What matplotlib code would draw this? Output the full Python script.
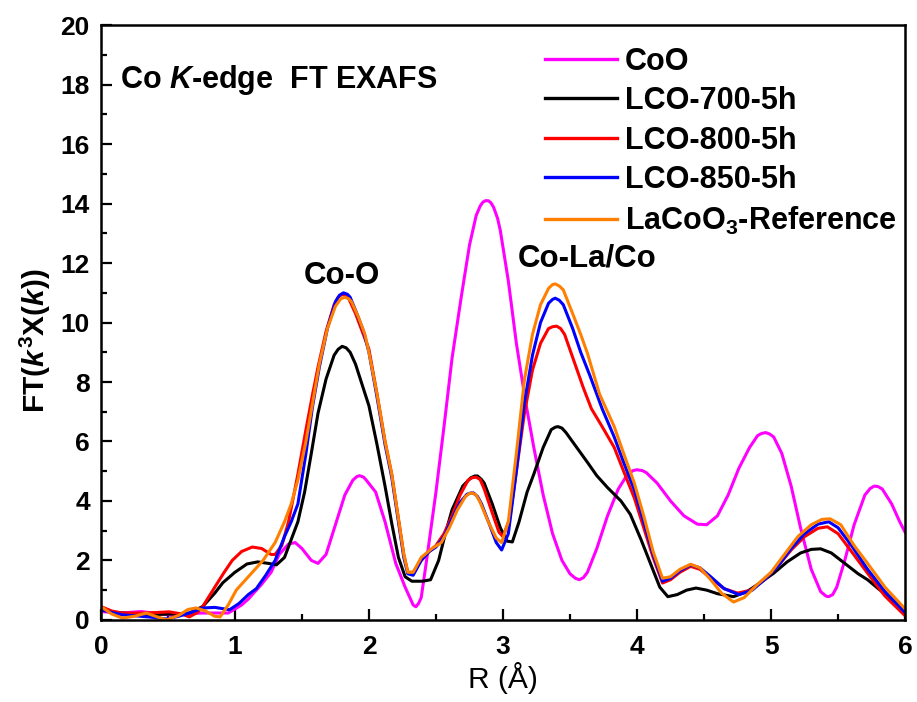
import matplotlib
matplotlib.use("Agg")
import matplotlib.pyplot as plt
from matplotlib.ticker import MultipleLocator

plt.rcParams["font.family"] = ["Liberation Sans", "DejaVu Sans"]
plt.rcParams["mathtext.fontset"] = "custom"
plt.rcParams["mathtext.rm"] = "Liberation Sans:bold"
plt.rcParams["mathtext.it"] = "Liberation Sans:italic:bold"
plt.rcParams["mathtext.bf"] = "Liberation Sans:bold"

# CoO
coo_r = [0.0, 0.15, 0.3, 0.5, 0.75, 0.95, 1.05, 1.1, 1.2, 1.27, 1.33, 1.4, 1.45, 1.5, 1.57, 1.62,
         1.68, 1.75, 1.82, 1.88, 1.91, 1.93, 1.96, 1.98, 2.05, 2.12, 2.2, 2.27, 2.31, 2.33, 2.35,
         2.37, 2.39, 2.43, 2.5, 2.56, 2.62, 2.69, 2.75, 2.8, 2.83, 2.85, 2.87, 2.89, 2.91, 2.93,
         2.96, 2.98, 3.04, 3.1, 3.17, 3.23, 3.3, 3.37, 3.44, 3.5, 3.54, 3.57, 3.6, 3.63, 3.7,
         3.78, 3.86, 3.93, 3.97, 4.0, 4.04, 4.07, 4.15, 4.25, 4.35, 4.45, 4.52, 4.6, 4.68, 4.76,
         4.84, 4.9, 4.93, 4.96, 4.99, 5.02, 5.08, 5.15, 5.22, 5.3, 5.37, 5.41, 5.43, 5.46, 5.49,
         5.55, 5.62, 5.7, 5.74, 5.77, 5.8, 5.83, 5.9, 5.96, 6.0]
coo_ft = [0.28, 0.23, 0.28, 0.17, 0.23, 0.23, 0.5, 0.7, 1.2, 1.6, 2.2, 2.55, 2.6, 2.4, 2.0, 1.9,
          2.2, 3.2, 4.2, 4.7, 4.82, 4.85, 4.8, 4.7, 4.3, 3.3, 1.9, 1.1, 0.7, 0.5, 0.44,
          0.55, 0.75, 2.0, 4.3, 6.5, 8.8, 10.9, 12.6, 13.6, 13.92, 14.05, 14.1, 14.1, 14.03, 13.88,
          13.5, 13.1, 11.4, 9.3, 7.3, 5.8, 4.2, 2.9, 2.0, 1.55, 1.4, 1.35, 1.42, 1.6, 2.4,
          3.5, 4.4, 4.9, 5.02, 5.05, 5.02, 4.95, 4.6, 4.0, 3.5, 3.22, 3.2, 3.5, 4.2, 5.1,
          5.8, 6.2, 6.27, 6.3, 6.25, 6.15, 5.6, 4.5, 3.1, 1.7, 0.95, 0.8, 0.78, 0.85, 1.1,
          2.0, 3.2, 4.2, 4.42, 4.5, 4.48, 4.4, 3.9, 3.3, 2.95]

# LCO-700-5h
l700_r = [0.0, 0.1, 0.25, 0.4, 0.55, 0.66, 0.76, 0.85, 0.91, 1.0, 1.09, 1.17, 1.25, 1.31, 1.37,
          1.42, 1.47, 1.52, 1.57, 1.62, 1.68, 1.74, 1.77, 1.8, 1.83, 1.86, 1.9, 1.95, 2.0, 2.06,
          2.12, 2.17, 2.22, 2.27, 2.32, 2.4, 2.46, 2.52, 2.57, 2.62, 2.7, 2.76, 2.79, 2.81, 2.84,
          2.86, 2.92, 2.98, 3.03, 3.07, 3.12, 3.18, 3.23, 3.3, 3.36, 3.39, 3.41, 3.44, 3.47, 3.55,
          3.63, 3.7, 3.78, 3.88, 3.95, 4.03, 4.1, 4.17, 4.23, 4.3, 4.37, 4.44, 4.52, 4.6, 4.72,
          4.82, 4.92, 5.02, 5.12, 5.22, 5.3, 5.37, 5.45, 5.55, 5.65, 5.72, 5.8, 5.9, 6.0]
l700_ft = [0.4, 0.25, 0.2, 0.18, 0.2, 0.23, 0.45, 0.9, 1.25, 1.6, 1.88, 1.95, 1.9, 1.85, 2.1,
           2.7, 3.3, 4.3, 5.6, 6.95, 8.1, 8.9, 9.1, 9.2, 9.15, 9.0, 8.6, 7.9, 7.2, 5.9,
           4.5, 3.25, 2.1, 1.45, 1.3, 1.3, 1.35, 2.0, 2.9, 3.7, 4.5, 4.78, 4.84, 4.84, 4.72,
           4.6, 3.9, 3.1, 2.65, 2.62, 3.3, 4.3, 4.9, 5.8, 6.4, 6.48, 6.5, 6.45, 6.3, 5.8,
           5.3, 4.85, 4.45, 4.0, 3.55, 2.7, 1.9, 1.1, 0.78, 0.85, 1.0, 1.07, 1.0, 0.88, 0.78,
           0.95, 1.25, 1.57, 1.95, 2.25, 2.37, 2.39, 2.25, 1.9, 1.55, 1.35, 1.05, 0.7, 0.34]

# LCO-800-5h
l800_r = [0.0, 0.08, 0.16, 0.34, 0.51, 0.6, 0.66, 0.72, 0.76, 0.85, 0.92, 0.98, 1.05, 1.13, 1.2,
          1.27, 1.3, 1.35, 1.4, 1.47, 1.53, 1.58, 1.62, 1.68, 1.74, 1.77, 1.8, 1.83, 1.85, 1.9,
          1.95, 2.0, 2.06, 2.12, 2.17, 2.22, 2.26, 2.29, 2.33, 2.39, 2.45, 2.5, 2.56, 2.62, 2.68,
          2.74, 2.77, 2.8, 2.83, 2.86, 2.92, 2.97, 3.0, 3.05, 3.1, 3.16, 3.22, 3.28, 3.34, 3.37,
          3.4, 3.43, 3.46, 3.53, 3.6, 3.66, 3.74, 3.83, 3.9, 3.98, 4.05, 4.12, 4.19, 4.25, 4.32,
          4.4, 4.47, 4.55, 4.65, 4.75, 4.85, 4.95, 5.05, 5.15, 5.25, 5.35, 5.42, 5.5, 5.6, 5.72,
          5.85, 6.0]
l800_ft = [0.45, 0.3, 0.23, 0.23, 0.27, 0.2, 0.1, 0.25, 0.45, 1.1, 1.6, 2.0, 2.3, 2.45, 2.4,
           2.2, 2.2, 2.5, 3.3, 4.9, 6.4, 7.6, 8.5, 9.7, 10.6, 10.85, 10.95, 10.9, 10.8, 10.3,
           9.7, 9.1, 7.6, 6.0, 4.9, 3.4, 2.2, 1.6, 1.6, 2.0, 2.3, 2.5, 2.9, 3.5, 4.2,
           4.7, 4.78, 4.8, 4.72, 4.4, 3.6, 2.95, 2.8, 3.4, 5.0, 6.95, 8.4, 9.3, 9.8, 9.86,
           9.88, 9.8, 9.6, 8.7, 7.8, 7.1, 6.5, 5.8, 5.0, 4.1, 3.1, 2.1, 1.24, 1.35, 1.6,
           1.8, 1.7, 1.4, 1.05, 0.9, 1.0, 1.35, 1.8, 2.35, 2.8, 3.08, 3.13, 2.9, 2.3, 1.57,
           0.8, 0.14]

# LCO-850-5h
l850_r = [0.0, 0.08, 0.16, 0.3, 0.4, 0.49, 0.58, 0.66, 0.76, 0.85, 0.96, 1.03, 1.1, 1.16, 1.23,
          1.3, 1.37, 1.42, 1.47, 1.53, 1.58, 1.63, 1.69, 1.75, 1.78, 1.81, 1.84, 1.86, 1.91, 1.96,
          2.0, 2.06, 2.12, 2.17, 2.22, 2.26, 2.29, 2.33, 2.39, 2.45, 2.5, 2.56, 2.62, 2.68, 2.73,
          2.76, 2.78, 2.81, 2.84, 2.9, 2.95, 2.99, 3.04, 3.1, 3.16, 3.22, 3.28, 3.34, 3.37, 3.39,
          3.42, 3.45, 3.52, 3.58, 3.65, 3.74, 3.83, 3.9, 3.98, 4.05, 4.12, 4.19, 4.25, 4.32, 4.4,
          4.47, 4.55, 4.65, 4.76, 4.86, 4.95, 5.05, 5.15, 5.25, 5.35, 5.43, 5.5, 5.6, 5.72, 5.85,
          6.0]
l850_ft = [0.34, 0.25, 0.17, 0.12, 0.08, 0.03, 0.12, 0.23, 0.4, 0.42, 0.34, 0.55, 0.85, 1.05, 1.5,
           2.0, 2.8, 3.3, 3.9, 5.6, 7.2, 8.5, 9.8, 10.7, 10.92, 11.0, 10.95, 10.85, 10.3, 9.7,
           9.0, 7.5, 5.9, 4.8, 3.3, 2.1, 1.55, 1.5, 2.0, 2.3, 2.45, 2.8, 3.4, 3.95, 4.22,
           4.27, 4.27, 4.15, 3.9, 3.2, 2.6, 2.35, 2.9, 5.0, 7.3, 8.9, 10.0, 10.65, 10.78, 10.82,
           10.75, 10.6, 9.8, 9.0, 8.2, 7.1, 6.15, 5.3, 4.37, 3.3, 2.2, 1.3, 1.4, 1.65, 1.85,
           1.75, 1.45, 1.05, 0.85, 1.0, 1.35, 1.8, 2.4, 2.9, 3.22, 3.3, 3.1, 2.5, 1.7, 0.95,
           0.25]

# LaCoO3-Reference
ref_r = [0.0, 0.08, 0.16, 0.25, 0.34, 0.42, 0.49, 0.58, 0.65, 0.71, 0.78, 0.85, 0.89, 0.95, 1.01,
         1.1, 1.21, 1.3, 1.37, 1.42, 1.47, 1.53, 1.58, 1.63, 1.69, 1.75, 1.79, 1.82, 1.85, 1.87,
         1.92, 1.97, 2.0, 2.06, 2.12, 2.17, 2.22, 2.26, 2.29, 2.33, 2.39, 2.47, 2.54, 2.6, 2.66,
         2.72, 2.75, 2.77, 2.8, 2.83, 2.89, 2.95, 2.99, 3.04, 3.1, 3.16, 3.22, 3.28, 3.34, 3.37,
         3.39, 3.42, 3.45, 3.52, 3.58, 3.63, 3.72, 3.83, 3.9, 3.98, 4.05, 4.12, 4.19, 4.25, 4.32,
         4.4, 4.47, 4.55, 4.63, 4.72, 4.8, 4.9, 5.0, 5.1, 5.2, 5.3, 5.38, 5.44, 5.52, 5.62,
         5.72, 5.85, 6.0]
ref_ft = [0.45, 0.2, 0.06, 0.12, 0.23, 0.1, 0.0, 0.15, 0.35, 0.4, 0.3, 0.12, 0.1, 0.5, 1.0,
          1.45, 2.0, 2.6, 3.3, 3.9, 4.7, 6.0, 7.3, 8.6, 9.8, 10.55, 10.8, 10.85, 10.8, 10.7,
          10.2, 9.6, 9.0, 7.6, 6.0, 4.9, 3.4, 2.2, 1.6, 1.6, 2.1, 2.4, 2.6, 3.1, 3.7,
          4.15, 4.25, 4.27, 4.2, 3.95, 3.3, 2.75, 2.6, 3.3, 5.6, 8.07, 9.6, 10.6, 11.15, 11.28,
          11.3, 11.23, 11.1, 10.3, 9.6, 8.97, 7.6, 6.5, 5.6, 4.6, 3.5, 2.3, 1.4, 1.45, 1.7,
          1.87, 1.75, 1.35, 0.9, 0.6, 0.75, 1.2, 1.6, 2.2, 2.8, 3.2, 3.38, 3.4, 3.2, 2.5,
          1.9, 1.1, 0.37]

series = [
    (coo_r, coo_ft, "#ff00ff", "CoO"),
    (l700_r, l700_ft, "black", "LCO-700-5h"),
    (l800_r, l800_ft, "#ff0000", "LCO-800-5h"),
    (l850_r, l850_ft, "#0000ff", "LCO-850-5h"),
    (ref_r, ref_ft, "#ff8000", "LaCoO$_3$-Reference"),
]

fig = plt.figure(figsize=(9.17, 7.02), dpi=100)
ax = fig.add_axes([0.110, 0.117, 0.877, 0.847])

for r, ft, color, label in series:
    ax.plot(r, ft, color=color, linewidth=2.2, label=label, solid_joinstyle="round")

ax.set_xlim(0, 6)
ax.set_ylim(0, 20)
ax.xaxis.set_major_locator(MultipleLocator(1))
ax.xaxis.set_minor_locator(MultipleLocator(0.5))
ax.yaxis.set_major_locator(MultipleLocator(2))
ax.yaxis.set_minor_locator(MultipleLocator(1))
ax.tick_params(which="both", direction="in", width=1.6, labelsize=19)
ax.tick_params(which="major", length=8)
ax.tick_params(which="minor", length=4.5)
ax.tick_params(axis="x", pad=11)
ax.tick_params(axis="y", pad=8)
for lab in ax.get_xticklabels() + ax.get_yticklabels():
    lab.set_fontweight("bold")
for sp in ax.spines.values():
    sp.set_linewidth(1.8)

ax.set_xlabel("R (Å)", fontsize=21.5, labelpad=2)
ax.set_ylabel("FT($k^3$X($k$))", fontsize=21.5, fontweight="bold")
ax.yaxis.set_label_coords(-0.06, 0.469)

ax.text(0.14, 17.9, "Co $K$-edge  FT EXAFS", fontsize=22, fontweight="bold")
ax.text(1.80, 11.3, "Co-O", fontsize=22.5, fontweight="bold", ha="center")
ax.text(3.63, 11.87, "Co-La/Co", fontsize=22.5, fontweight="bold", ha="center")

leg = ax.legend(loc="upper left", bbox_to_anchor=(0.552, 0.964),
                prop={"weight": "bold", "size": 22}, frameon=False,
                borderaxespad=0, borderpad=0, handlelength=2.35,
                handletextpad=0.28, labelspacing=0.31)
for line in leg.get_lines():
    line.set_linewidth(2.4)

fig.savefig("out.png", dpi=100)
